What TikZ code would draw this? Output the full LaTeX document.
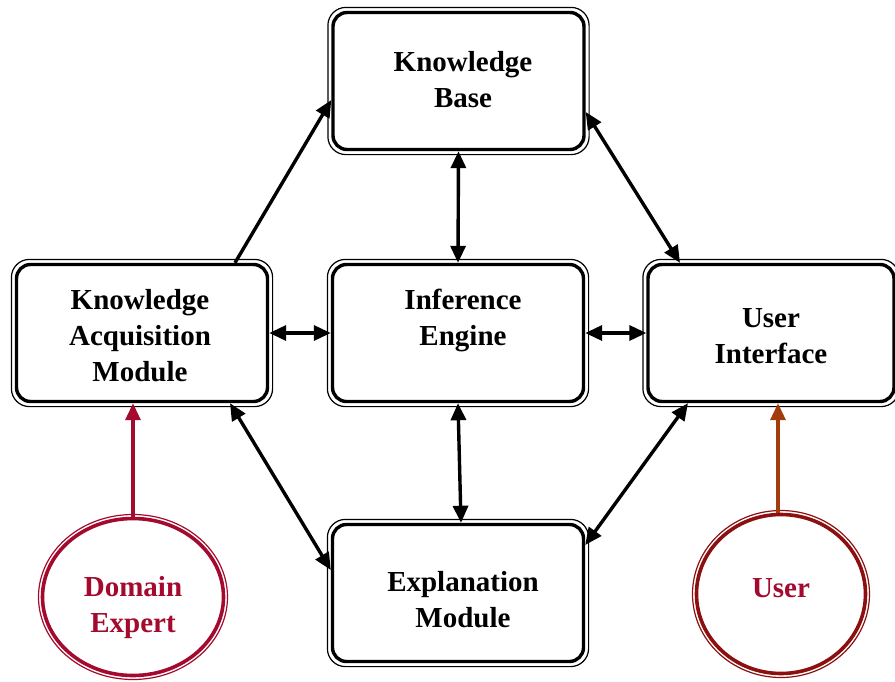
\documentclass[tikz,border=0pt]{standalone}
\usepackage{fontspec}
\setmainfont{Liberation Serif}
\usetikzlibrary{shapes.geometric,arrows.meta,calc}
\definecolor{crimson}{HTML}{A30A2E}
\definecolor{maroon}{HTML}{8C1010}
\definecolor{rust}{HTML}{A23C0A}
\tikzset{
  x=1pt, y=-1pt,
  box/.style={draw, line width=3.4pt, rounded corners=14pt, minimum width=251pt,
    minimum height=137pt, inner sep=0pt},
  frame/.style={draw, line width=1.2pt, rounded corners=18pt},
  lbl/.style={font=\fontsize{29}{36}\selectfont\bfseries, align=center, inner sep=0pt},
  oval/.style={draw, ellipse, line width=3.6pt, inner sep=0pt},
  tip/.style={Triangle[length=17pt,width=15pt]},
  link/.style={line width=3.4pt, {Triangle[length=17pt,width=15pt]}-{Triangle[length=17pt,width=15pt]}},
  onelink/.style={line width=3.4pt, -{Triangle[length=17pt,width=15pt]}},
}
\begin{document}
\begin{tikzpicture}
\useasboundingbox (0,0) rectangle (895,681);

% modules
\node[box] (kb)  at (458.5,81) {};
\node[box] (kam) at (142,333) {};
\node[box] (ie)  at (458,333) {};
\node[box, minimum width=246pt] (ui) at (771,333) {};
\node[box] (em)  at (458,593) {};
\foreach \n in {kb,kam,ie,ui,em}
  \draw[frame] ([shift={(-3.4pt,3.4pt)}]\n.north west) rectangle ([shift={(3.4pt,-3.4pt)}]\n.south east);

% module captions
\node[lbl] (kbt)  at (463,80)  {Knowledge\\Base};
\node[lbl] (kamt) at (140,336) {Knowledge\\Acquisition\\Module};
\node[lbl] (iet)  at (463,320) {Inference\\Engine};
\node[lbl] (uit)  at (771,336) {User\\Interface};
\node[lbl] (emt)  at (463,600) {Explanation\\Module};

% external actors
\node[oval, draw=crimson, minimum width=181pt, minimum height=157pt] (de) at (133,597) {};
\draw[crimson, line width=1.2pt] (de.center) ellipse [x radius=94.5pt, y radius=82.5pt];
\node[lbl, text=crimson] (det) at (133,608) {Domain\\Expert};

\node[oval, draw=maroon, minimum width=169pt, minimum height=159pt] (us) at (781,594) {};
\draw[maroon, line width=1.2pt] (us.center) ellipse [x radius=88.5pt, y radius=83.5pt];
\node[lbl, text=crimson] (ust) at (781,588) {User};

% connections
\draw[onelink] ([xshift=93pt]kam.north) -- ([yshift=-19pt]kb.west);
\draw[link] ([yshift=-31pt]kb.east) -- ([xshift=-91pt]ui.north);
\draw[link] (kb.south) -- (ie.north);
\draw[link] (kam.east) -- (ie.west);
\draw[link] (ie.east) -- (ui.west);
\draw[link] ([xshift=88pt]kam.south) -- ([yshift=23pt]em.west);
\draw[link] (ie.south) -- ([xshift=3pt]em.north);
\draw[link] ([yshift=48pt]em.east) -- ([xshift=-83pt]ui.south);

\draw[onelink, crimson] (de.north) -- (de.north |- kam.south);
\draw[onelink, rust] ([xshift=-3pt]us.north) -- ([xshift=-3pt]us.north |- ui.south);
\end{tikzpicture}
\end{document}
